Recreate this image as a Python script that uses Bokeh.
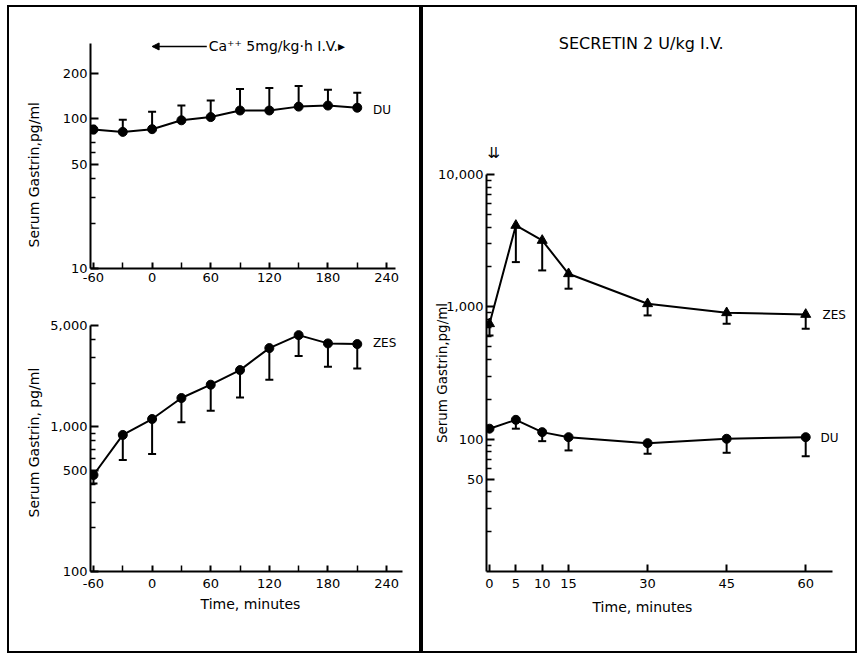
from bokeh.plotting import figure
from bokeh.models import (ColumnDataSource, Whisker, TeeHead, FixedTicker, Title,
                          Range1d, Arrow, NormalHead)
from bokeh.layouts import column, row
from bokeh.embed import file_html
from bokeh.resources import INLINE
from bokeh.core.properties import value

FONT = "DejaVu Sans"

# ---------------- data ----------------
# Left: calcium infusion
ca_time = [-60, -30, 0, 30, 60, 90, 120, 150, 180, 210]
ca_du = [85, 82, 85.5, 98, 103, 114, 114, 121, 123, 119]
ca_du_err_time = [-30, 0, 30, 60, 90, 120, 150, 180, 210]
ca_du_upper = [99, 112, 123, 133, 159, 161, 166, 157, 150]
ca_zes = [464, 877, 1130, 1578, 1950, 2460, 3490, 4290, 3760, 3720]
ca_zes_err_time = [-60, -30, 0, 30, 60, 90, 120, 150, 180, 210]
ca_zes_lower = [405, 589, 649, 1072, 1288, 1592, 2109, 3076, 2594, 2524]

# Right: secretin
sec_time = [0, 5, 10, 15, 30, 45, 60]
sec_zes = [745, 4123, 3175, 1778, 1055, 902, 876]
sec_zes_err_time = [0, 5, 10, 15, 30, 45, 60]
sec_zes_lower = [608, 2178, 1884, 1371, 861, 745, 683]
sec_du = [120, 140, 113, 103.5, 93.3, 100.7, 103.5]
sec_du_err_time = [5, 10, 15, 30, 45, 60]
sec_du_lower = [120, 96.6, 82.2, 77.6, 78.9, 74.4]

# ticks
ca_xticks = [-60, 0, 60, 120, 180, 240]
ca_xlabels = ["-60", "0", "60", "120", "180", "240"]
ca_xminor = [-30, 30, 90, 150, 210]
du_yticks = [10, 50, 100, 200]
du_ylabels = ["10", "50", "100", "200"]
du_yminor = [20, 30, 40, 60, 70, 80, 90]
zes_yticks = [100, 500, 1000, 5000]
zes_ylabels = ["100", "500", "1,000", "5,000"]
zes_yminor = [200, 300, 400, 600, 700, 800, 900, 2000, 3000, 4000]
sec_xticks = [0, 5, 10, 15, 30, 45, 60]
sec_xlabels = ["0", "5", "10", "15", "30", "45", "60"]
sec_yticks = [50, 100, 1000, 10000]
sec_ylabels = ["50", "100", "1,000", "10,000"]
sec_yminor = [20, 30, 40, 60, 70, 80, 90, 200, 300, 400, 500, 600, 700, 800, 900,
              2000, 3000, 4000, 5000, 6000, 7000, 8000, 9000]


def base_of(times, xs, ys):
    return [ys[xs.index(t)] for t in times]


def style_axis(ax, tick_in=6, minor_in=4):
    ax.axis_line_width = 2
    ax.axis_line_color = "black"
    ax.major_tick_line_width = 2
    ax.minor_tick_line_width = 1.5
    ax.major_tick_line_color = "black"
    ax.minor_tick_line_color = "black"
    ax.major_tick_out = 0
    ax.minor_tick_out = 0
    ax.major_tick_in = tick_in
    ax.minor_tick_in = minor_in
    ax.major_label_text_font = FONT
    ax.major_label_text_font_size = "13px"
    ax.major_label_text_color = "black"
    ax.axis_label_text_font = FONT
    ax.axis_label_text_font_style = "normal"
    ax.axis_label_text_color = "black"


def new_fig(**kw):
    p = figure(output_backend="svg", toolbar_location=None, tools="", **kw)
    p.grid.visible = False
    p.outline_line_color = None
    p.background_fill_color = "white"
    p.border_fill_color = "white"
    return p


def ylabel_title(text, offset, standoff, size="14px"):
    return Title(text=text, align="left", vertical_align="top", offset=offset,
                 standoff=standoff, text_font=FONT, text_font_size=size,
                 text_font_style="normal", text_color="black")


def txt(p, x, y, s, size="12px", align="left"):
    p.text(x=[x], y=[y], text=[s], text_font=value(FONT), text_font_size=value(size),
           text_align=align, text_baseline="middle", text_color="black")


def tee():
    return TeeHead(size=8, line_width=2, line_color="black")


# ---------------- top-left: DU, calcium ----------------
p1 = new_fig(width=410, height=304, y_axis_type="log",
             x_range=Range1d(-63.05, 264.5), y_range=Range1d(10, 345.5),
             min_border_left=79, min_border_right=9, min_border_top=31, min_border_bottom=43)
xa, ya = p1.xaxis[0], p1.yaxis[0]
style_axis(xa, 6, 6)
style_axis(ya, 8, 5)
xa.ticker = FixedTicker(ticks=ca_xticks, minor_ticks=ca_xminor)
xa.major_label_overrides = dict(zip(ca_xticks, ca_xlabels))
xa.bounds = (-63.05, 249)
xa.major_label_standoff = 4
ya.bounds = (10, 320)
ya.ticker = FixedTicker(ticks=du_yticks, minor_ticks=du_yminor)
ya.major_label_overrides = dict(zip(du_yticks, du_ylabels))
ya.major_label_standoff = 3
p1.add_layout(ylabel_title("Serum Gastrin,pg/ml", 21, 32), "left")

p1.line(ca_time, ca_du, line_width=2, color="black")
p1.scatter(ca_time, ca_du, size=9, color="black", marker="circle")
src = ColumnDataSource(dict(x=ca_du_err_time, lo=base_of(ca_du_err_time, ca_time, ca_du),
                            hi=ca_du_upper))
p1.add_layout(Whisker(source=src, base="x", lower="lo", upper="hi", line_width=2,
                      line_color="black", lower_head=None, upper_head=tee()))
p1.add_layout(Arrow(end=NormalHead(size=7, fill_color="black", line_color="black"),
                    x_start=56, y_start=305.6, x_end=0, y_end=305.6,
                    line_width=1.5, line_color="black"))
txt(p1, 58, 305.6, "Ca\u207a\u207a 5mg/kg\u00b7h I.V.\u25b8", size="14px")
txt(p1, 226, 115.7, "DU")

# ---------------- bottom-left: ZES, calcium ----------------
p2 = new_fig(width=410, height=340, y_axis_type="log",
             x_range=Range1d(-63.06, 264.5), y_range=Range1d(100, 5677),
             min_border_left=80, min_border_right=9, min_border_top=6, min_border_bottom=80)
xa, ya = p2.xaxis[0], p2.yaxis[0]
style_axis(xa, 6, 6)
style_axis(ya, 8, 5)
xa.ticker = FixedTicker(ticks=ca_xticks, minor_ticks=ca_xminor)
xa.major_label_overrides = dict(zip(ca_xticks, ca_xlabels))
xa.bounds = (-63.06, 256)
xa.major_label_standoff = 7
xa.axis_label = "Time, minutes"
xa.axis_label_text_font_size = "14px"
xa.axis_label_standoff = 5
ya.bounds = (100, 5000)
ya.ticker = FixedTicker(ticks=zes_yticks, minor_ticks=zes_yminor)
ya.major_label_overrides = dict(zip(zes_yticks, zes_ylabels))
ya.major_label_standoff = 3
p2.add_layout(ylabel_title("Serum Gastrin, pg/ml", 54, 8), "left")

p2.line(ca_time, ca_zes, line_width=2, color="black")
p2.scatter(ca_time, ca_zes, size=9, color="black", marker="circle")
src = ColumnDataSource(dict(x=ca_zes_err_time, lo=ca_zes_lower,
                            hi=base_of(ca_zes_err_time, ca_time, ca_zes)))
p2.add_layout(Whisker(source=src, base="x", lower="lo", upper="hi", line_width=2,
                      line_color="black", upper_head=None, lower_head=tee()))
txt(p2, 226, 3755, "ZES")

# ---------------- right: secretin ----------------
hdr = new_fig(width=432, height=158, x_axis_location=None, y_axis_location=None,
              y_range=Range1d(0, 158),
              min_border_left=63, min_border_right=5, min_border_top=0, min_border_bottom=0)
p3 = new_fig(width=432, height=486, y_axis_type="log",
             x_range=Range1d(-0.57, 68.5), y_range=Range1d(10, 10000),
             min_border_left=63, min_border_right=5, min_border_top=9, min_border_bottom=80)
hdr.x_range = p3.x_range
txt(hdr, 28.8, 122, "SECRETIN 2 U/kg I.V.", size="16px", align="center")
txt(hdr, 0.76, 13, "\u21ca", size="15px", align="center")

xa, ya = p3.xaxis[0], p3.yaxis[0]
style_axis(xa, 7, 0)
style_axis(ya, 8, 5)
xa.ticker = FixedTicker(ticks=sec_xticks, minor_ticks=[])
xa.major_label_overrides = dict(zip(sec_xticks, sec_xlabels))
xa.bounds = (-0.57, 65)
xa.major_label_standoff = 7
ya.ticker = FixedTicker(ticks=sec_yticks, minor_ticks=sec_yminor)
ya.major_label_overrides = dict(zip(sec_yticks, sec_ylabels))
ya.major_label_standoff = 3
ya.axis_label = "Serum Gastrin,pg/ml"
ya.axis_label_text_font_size = "13.5px"
ya.axis_label_standoff = -15
p3.add_layout(Title(text="Time, minutes", align="left", vertical_align="bottom", offset=106,
                    standoff=12, text_font=FONT, text_font_size="14px",
                    text_font_style="normal", text_color="black"), "below")

p3.line(sec_time, sec_zes, line_width=2, color="black")
p3.scatter(sec_time, sec_zes, size=10, color="black", marker="triangle")
src = ColumnDataSource(dict(x=sec_zes_err_time, lo=sec_zes_lower,
                            hi=base_of(sec_zes_err_time, sec_time, sec_zes)))
p3.add_layout(Whisker(source=src, base="x", lower="lo", upper="hi", line_width=2,
                      line_color="black", upper_head=None, lower_head=tee()))
p3.line(sec_time, sec_du, line_width=2, color="black")
p3.scatter(sec_time, sec_du, size=9, color="black", marker="circle")
src = ColumnDataSource(dict(x=sec_du_err_time, lo=sec_du_lower,
                            hi=base_of(sec_du_err_time, sec_time, sec_du)))
p3.add_layout(Whisker(source=src, base="x", lower="lo", upper="hi", line_width=2,
                      line_color="black", upper_head=None, lower_head=tee()))
txt(p3, 63.2, 861, "ZES")
txt(p3, 62.8, 102.5, "DU")

left = column(p1, p2, styles={"border": "2px solid black"})
right = column(hdr, p3, styles={"border": "2px solid black"})
page = row(left, right, margin=(5, 0, 0, 7))

open("out.html", "w").write(file_html(page, INLINE))
